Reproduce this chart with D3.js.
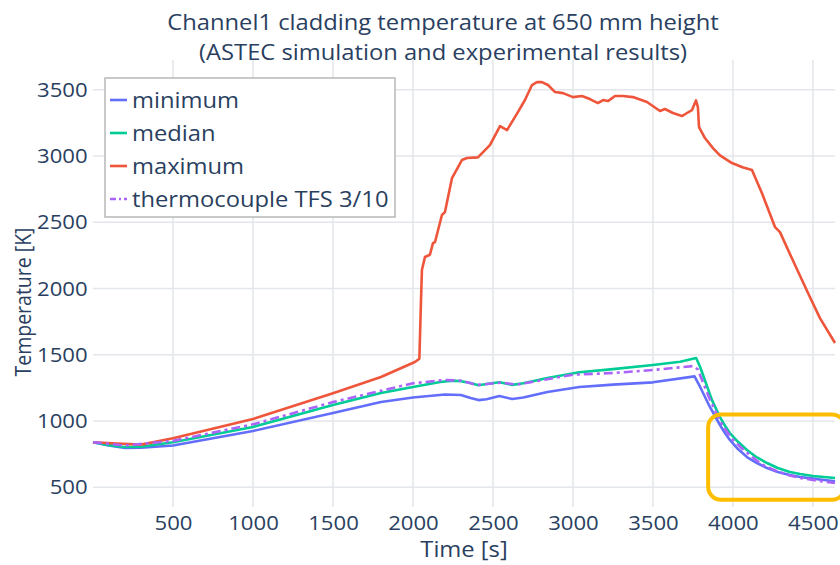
<!DOCTYPE html>
<html>
<head>
<meta charset="utf-8">
<script src="https://cdn.jsdelivr.net/npm/d3@7"></script>
<style>
  html, body { margin: 0; padding: 0; background: #fff; }
  svg text { font-family: "Open Sans", "Noto Sans", sans-serif; fill: #2a3f5f; }
</style>
</head>
<body>
<svg id="chart" width="840" height="565"></svg>
<script>
// Time axis [s] and temperatures [K] for each trace
const minTime = [0, 100, 200, 300, 500, 1000, 1500, 1800, 2000, 2200, 2300, 2360, 2410, 2460, 2540, 2620, 2690, 2840, 3040, 3250, 3500, 3760, 3795, 3856, 3919, 3950, 3981, 4030, 4088, 4150, 4213, 4280, 4356, 4420, 4500, 4570, 4638];
const minTemp = [840, 815, 797, 798, 815, 925, 1060, 1143, 1178, 1200, 1196, 1174, 1158, 1164, 1189, 1166, 1178, 1219, 1257, 1275, 1292, 1337, 1257, 1106, 970, 910, 857, 790, 728, 683, 645, 615, 592, 578, 565, 555, 545];

const medTime = [0, 100, 190, 300, 500, 1000, 1500, 1800, 2000, 2170, 2250, 2300, 2360, 2410, 2460, 2540, 2620, 2690, 2840, 3040, 3250, 3500, 3670, 3770, 3795, 3813, 3869, 3919, 3950, 3981, 4030, 4088, 4150, 4213, 4280, 4356, 4420, 4500, 4570, 4638];
const medTemp = [840, 818, 804, 806, 840, 955, 1121, 1211, 1257, 1294, 1305, 1300, 1287, 1270, 1279, 1292, 1273, 1285, 1325, 1368, 1392, 1423, 1447, 1475, 1408, 1347, 1158, 1030, 965, 909, 845, 781, 725, 683, 645, 615, 600, 585, 577, 570];

const maxTime = [0, 150, 300, 500, 1000, 1500, 1800, 2012, 2040, 2050, 2056, 2075, 2106, 2125, 2138, 2181, 2200, 2244, 2306, 2338, 2406, 2481, 2544, 2588, 2656, 2700, 2744, 2775, 2806, 2844, 2888, 2938, 3000, 3056, 3106, 3156, 3188, 3219, 3263, 3313, 3375, 3463, 3544, 3575, 3625, 3681, 3713, 3744, 3769, 3781, 3788, 3825, 3875, 3919, 3994, 4060, 4119, 4181, 4263, 4294, 4388, 4481, 4544, 4638];
const maxTemp = [840, 830, 822, 870, 1015, 1210, 1332, 1445, 1470, 1900, 2140, 2238, 2255, 2343, 2351, 2555, 2577, 2834, 2970, 2985, 2990, 3083, 3226, 3196, 3332, 3423, 3536, 3558, 3558, 3536, 3483, 3475, 3445, 3453, 3430, 3400, 3423, 3415, 3453, 3453, 3445, 3408, 3340, 3355, 3325, 3302, 3325, 3347, 3420, 3370, 3219, 3136, 3060, 3005, 2947, 2915, 2894, 2721, 2464, 2426, 2177, 1936, 1777, 1589];

const tcTime = [0, 200, 500, 1000, 1500, 2000, 2200, 2300, 2400, 2550, 2650, 3000, 3250, 3500, 3750, 3780, 3850, 3920, 3960, 4000, 4050, 4100, 4150, 4200, 4280, 4350, 4420, 4500, 4570, 4638];
const tcTemp = [840, 815, 850, 975, 1143, 1285, 1310, 1305, 1272, 1290, 1275, 1350, 1362, 1385, 1415, 1390, 1180, 1000, 925, 860, 800, 750, 700, 660, 620, 590, 570, 555, 543, 532];

const seriesNames = ["minimum", "median", "maximum", "thermocouple TFS 3/10"];
const seriesColors = ["#636efa", "#00cc96", "#ef553b", "#ab63fa"];

const xTicks = [500, 1000, 1500, 2000, 2500, 3000, 3500, 4000, 4500];
const yTicks = [500, 1000, 1500, 2000, 2500, 3000, 3500];

const titleLines = ["Channel1 cladding temperature at 650 mm height", "(ASTEC simulation and experimental results)"];
const xTitle = "Time [s]";
const yTitle = "Temperature [K]";

// Zoom window highlighting the quench tail
const highlightTime = [3845, 4700];
const highlightTemp = [405, 1050];

const svg = d3.select("#chart");
const plot = { left: 93, right: 835, top: 60, bottom: 507 };
const sx = 1.08; // horizontal text stretch

const x = d3.scaleLinear().domain([0, 4638]).range([plot.left, plot.right]);
const y = d3.scaleLinear().domain([351, 3725]).range([plot.bottom, plot.top]);

// Grid
const grid = svg.append("g");
grid.selectAll("line.vx").data(xTicks).join("line")
  .attr("x1", d => x(d)).attr("x2", d => x(d))
  .attr("y1", plot.top).attr("y2", plot.bottom)
  .attr("stroke", "#e3e6ea").attr("stroke-width", 1.5);
grid.selectAll("line.hy").data(yTicks).join("line")
  .attr("x1", plot.left).attr("x2", plot.right)
  .attr("y1", d => y(d)).attr("y2", d => y(d))
  .attr("stroke", "#e3e6ea").attr("stroke-width", 1.5);

// Axes (labels only, no domain lines)
const xAxis = d3.axisBottom(x).tickValues(xTicks).tickSize(0).tickPadding(0).tickFormat(d3.format("d"));
const gx = svg.append("g").attr("transform", `translate(0,${plot.bottom})`).call(xAxis);
gx.select(".domain").remove();
gx.selectAll("text").attr("font-size", 20.5).attr("dy", "1.1em").attr("y", 0)
  .attr("transform", `scale(${sx},1)`)
  .style("font-family", '"Open Sans", sans-serif').attr("fill", "#2a3f5f");

const yAxis = d3.axisLeft(y).tickValues(yTicks).tickSize(0).tickPadding(5).tickFormat(d3.format("d"));
const gy = svg.append("g").attr("transform", `translate(${plot.left},0)`).call(yAxis);
gy.select(".domain").remove();
gy.selectAll("text").attr("font-size", 20.5)
  .attr("transform", `scale(${sx},1)`)
  .style("font-family", '"Open Sans", sans-serif').attr("fill", "#2a3f5f");

// Traces
const line = d3.line().x(d => x(d[0])).y(d => y(d[1]));
const traces = [
  { t: minTime, v: minTemp, dash: null },
  { t: medTime, v: medTemp, dash: null },
  { t: maxTime, v: maxTemp, dash: null },
  { t: tcTime, v: tcTemp, dash: "9,4,3,4" }
];
const lineG = svg.append("g");
traces.forEach((tr, i) => {
  lineG.append("path")
    .datum(d3.zip(tr.t, tr.v))
    .attr("d", line)
    .attr("fill", "none")
    .attr("stroke", seriesColors[i])
    .attr("stroke-width", 2.6)
    .attr("stroke-linejoin", "round")
    .attr("stroke-dasharray", tr.dash);
});

// Highlight box
svg.append("rect")
  .attr("x", x(highlightTime[0])).attr("y", y(highlightTemp[1]))
  .attr("width", x(highlightTime[1]) - x(highlightTime[0]))
  .attr("height", y(highlightTemp[0]) - y(highlightTemp[1]))
  .attr("rx", 13).attr("ry", 13)
  .attr("fill", "none").attr("stroke", "#ffbd00").attr("stroke-width", 4);

// Legend
const legend = svg.append("g").attr("transform", "translate(105,78)");
legend.append("rect").attr("width", 290).attr("height", 139)
  .attr("fill", "#fff").attr("stroke", "#b8b8b8").attr("stroke-width", 1.5);
seriesNames.forEach((name, i) => {
  const cy = 22 + i * 33;
  legend.append("line")
    .attr("x1", 5).attr("x2", 22).attr("y1", cy).attr("y2", cy)
    .attr("stroke", seriesColors[i]).attr("stroke-width", 2.6)
    .attr("stroke-dasharray", traces[i].dash ? "6,3,2,3" : null);
  legend.append("text").attr("transform", `translate(27,${cy}) scale(${sx},1)`)
    .attr("dy", "0.35em").attr("font-size", 22).text(name);
});

// Titles
svg.append("g").selectAll("text").data(titleLines).join("text")
  .attr("transform", (d, i) => `translate(443,${30 + i * 30}) scale(${sx},1)`)
  .attr("text-anchor", "middle").attr("font-size", 22).text(d => d);

svg.append("text").attr("transform", `translate(464,557) scale(${sx},1)`)
  .attr("text-anchor", "middle").attr("font-size", 22).text(xTitle);

svg.append("text").attr("transform", `translate(31,302) rotate(-90) scale(1,${sx})`)
  .attr("text-anchor", "middle").attr("font-size", 19.5).text(yTitle);
</script>
</body>
</html>
